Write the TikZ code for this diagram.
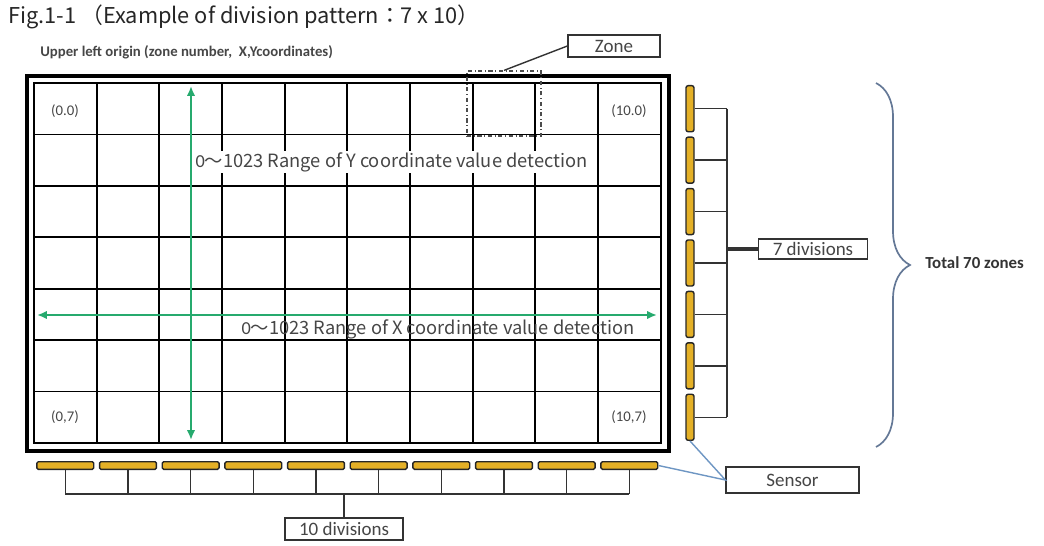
\documentclass[tikz,border=0pt]{standalone}
\usepackage{fontspec}
\setmainfont{Carlito}
\newfontfamily\cjk{Noto Sans CJK JP}
\usepackage{tikz}
\usetikzlibrary{calc,positioning,arrows.meta}
\usetikzlibrary{decorations.pathreplacing}
\definecolor{sensorgold}{RGB}{228,176,38}
\definecolor{rangegreen}{RGB}{38,170,110}
\definecolor{bracegray}{RGB}{100,120,150}
\definecolor{linkblue}{RGB}{110,150,195}
\definecolor{textgray}{RGB}{70,70,70}

\tikzset{
  hsensor/.style={draw=black!85, fill=sensorgold, line width=1pt, rounded corners=1pt,
    minimum width=1.42cm, minimum height=0.19cm, inner sep=0pt},
  vsensor/.style={draw=black!85, fill=sensorgold, line width=1pt, rounded corners=1.5pt,
    minimum width=0.2cm, minimum height=1.15cm, inner sep=0pt},
  labelbox/.style={draw=black!80, line width=0.9pt, fill=white, text=textgray,
    font=\fontsize{13.5}{15}\selectfont, inner sep=0pt},
  celltext/.style={text=textgray, font=\fontsize{10.5}{12}\selectfont},
  rangetext/.style={text=textgray, font=\fontsize{13}{15}\selectfont, inner sep=1pt},
  bus/.style={draw=black!80, line width=1pt},
  rangearrow/.style={rangegreen, line width=1.4pt,
    {Latex[length=7pt,width=6pt]}-{Latex[length=7pt,width=6pt]}}
}

\begin{document}
\begin{tikzpicture}[x=0.025cm, y=-0.025cm]
    \useasboundingbox (0,0) rectangle (1044,545);
    % Headings
    \node[anchor=west, inner sep=0pt, text=black!85,
      font=\cjk\fontsize{15.5}{18}\selectfont] (title) at (8,17)
      {Fig.1-1 （Example of division pattern：7 x 10）};
    \node[anchor=west, inner sep=0pt, text=textgray,
      font=\bfseries\fontsize{10.5}{13}\selectfont] (origin) at (40,52)
      {Upper left origin (zone number,~~X,Ycoordinates)};
    % Frame and grid
    \draw[line width=2.2pt] (27,76) rectangle (669,451);
    \draw[line width=1.4pt] (34,83) rectangle (660.7,443);
    \foreach \i in {1,...,9}
      \draw[line width=1.3pt] ({34+62.67*\i},83) -- ({34+62.67*\i},443);
    \foreach \j in {1,...,6}
      \draw[line width=1.3pt] (34,{83+51.43*\j}) -- (660.7,{83+51.43*\j});
    % Corner cells
    \node[celltext] (c00) at (65,111) {(0.0)};
    \node[celltext] (c100) at (629,111) {(10.0)};
    \node[celltext] (c07) at (65,417) {(0,7)};
    \node[celltext] (c107) at (629,417) {(10,7)};
    % Zone marker
    \node[draw=black!70, dash dot, line width=1pt, minimum width=1.85cm,
      minimum height=1.62cm, inner sep=0pt] (cell) at (504,103.5) {};
    \node[labelbox, minimum width=2.3cm, minimum height=0.55cm] (zone) at (614,46) {Zone};
    \draw[line width=1pt, black!80] (zone.west) -- (cell.north);
    % Detection ranges
    \coordinate (ytop) at (191,86);
    \coordinate (ybot) at (191,440);
    \coordinate (xleft) at (37,315);
    \coordinate (xright) at (657,315);
    \node[rangetext, fill=white, anchor=west] (yrange) at (194,162)
      {0\cjk{～}1023 Range of Y coordinate value detection};
    \draw[rangearrow] (ytop) -- (ybot);
    \draw[rangearrow] (xleft) -- (xright);
    \node[rangetext, anchor=west] (xrange) at (240,329)
      {0\cjk{～}1023 Range of X coordinate value detection};
    % Bottom sensors
    \foreach \i in {1,...,10}
      \node[hsensor] (s\i) at ({65.3+62.67*(\i-1)},465.5) {};
    \coordinate (busL) at (65.3,494);
    \foreach \i in {1,...,10}
      \draw[bus] (s\i.south) -- (s\i.south |- busL);
    \draw[bus] (s1.south |- busL) -- (s10.south |- busL);
    \node[labelbox, minimum width=2.95cm, minimum height=0.55cm] (div10) at (344,529) {10 divisions};
    \draw[bus, line width=1.6pt] (div10.north |- busL) -- (div10.north);
    % Right sensors
    \foreach \j in {1,...,7}
      \node[vsensor] (r\j) at (690,{108.7+51.43*(\j-1)}) {};
    \coordinate (busR) at (727,108.7);
    \foreach \j in {1,...,7}
      \draw[bus] (r\j.east) -- (r\j.east -| busR);
    \draw[bus] (r1.east -| busR) -- (r7.east -| busR);
    \node[labelbox, minimum width=2.72cm, minimum height=0.5cm] (div7) at (813,249) {7 divisions};
    \draw[bus, line width=2.4pt] (div7.west -| busR) -- (div7.west);
    % Sensor label
    \node[labelbox, minimum width=3.32cm, minimum height=0.65cm] (sensor) at (792.5,480) {Sensor};
    \draw[linkblue, line width=1pt] (r7.south) -- (sensor.west) -- (s10.east);
    % Total
    \draw[bracegray, line width=1.2pt, decorate,
      decoration={brace, amplitude=0.85cm}] (876,83) -- (876,447);
    \node[anchor=west, inner sep=0pt, text=black!80,
      font=\bfseries\fontsize{12}{14}\selectfont] (total) at (925,263) {Total 70 zones};
\end{tikzpicture}
\end{document}
